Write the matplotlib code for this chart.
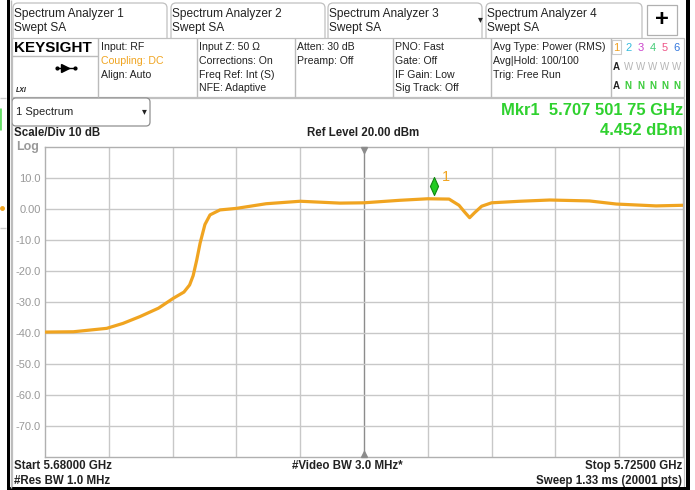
import numpy as np
import matplotlib
matplotlib.use("Agg")
import matplotlib.pyplot as plt
from matplotlib.patches import Rectangle, FancyBboxPatch
from matplotlib.path import Path
from matplotlib.transforms import offset_copy

plt.rcParams["font.family"] = ["Liberation Sans", "DejaVu Sans"]

# --- trace values (offset from start in MHz, level in dBm)
start_ghz = 5.680
stop_ghz = 5.725
trace_offset_mhz = [0.0, 2.0, 4.35, 5.5, 6.7, 8.0, 9.05, 9.8, 10.2, 10.45, 10.7,
                    10.94, 11.28, 11.64, 12.34, 13.5, 15.6, 18.0, 20.8, 22.5,
                    25.0, 27.0, 28.5, 29.2, 29.6, 29.95, 30.3, 30.8, 31.5, 33.5,
                    35.6, 38.4, 40.3, 43.1, 45.0]
trace_dbm = [-39.7, -39.6, -38.5, -36.9, -34.7, -32.0, -28.8, -26.8, -24.5, -21.5,
             -16.5, -11.0, -5.0, -1.9, -0.3, 0.2, 1.7, 2.5, 1.9, 2.0,
             2.8, 3.3, 3.2, 1.2, -1.0, -2.8, -1.2, 0.9, 2.0, 2.5,
             2.9, 2.6, 1.6, 1.0, 1.2]

marker_ghz = 5.70750175
marker_dbm = 4.452

ref_level = 20.0
y_ticks = [10, 0, -10, -20, -30, -40, -50, -60, -70]
y_labels = ["10.0", "0.00", "-10.0", "-20.0", "-30.0", "-40.0", "-50.0", "-60.0", "-70.0"]

trace_colors = ["#f0a020", "#33bbdd", "#cc44cc", "#44cc77", "#ee5588", "#3377dd"]
ORANGE = "#f0a420"
GREEN = "#2fd12f"
GRID = "#c8c8c8"
TXT = "#222222"

W, H = 695, 490
fig = plt.figure(figsize=(W / 100, H / 100), dpi=100)
fig.patch.set_facecolor("white")

# overlay axes in pixel coords for the instrument chrome
ov = fig.add_axes([0, 0, 1, 1])
ov.set_xlim(0, W)
ov.set_ylim(H, 0)
ov.axis("off")


def t(x, y, s, size=7.6, color=TXT, weight="normal", ha="left", **kw):
    ov.text(x, y, s, fontsize=size, color=color, fontweight=weight,
            ha=ha, va="center", **kw)


def line(x0, y0, x1, y1, color="#bbbbbb", lw=1.0):
    ov.plot([x0, x1], [y0, y1], color=color, lw=lw, solid_capstyle="butt")


# --- tabs
tab_x = [12, 170, 327, 485]
for i, x0 in enumerate(tab_x):
    w = 156 if i < 3 else 158
    ov.add_patch(FancyBboxPatch((x0 + 1, 3), w - 2, 40, boxstyle="round,pad=0,rounding_size=5",
                                fc="white", ec="#c0c0c0", lw=0.9))
    t(x0 + 2, 14, f"Spectrum Analyzer {i + 1}", size=8.6)
    t(x0 + 2, 28, "Swept SA", size=8.6)
t(478, 19, "\u25BE", size=7)
ov.add_patch(Rectangle((647, 5), 30, 30, fc="white", ec="#b0b0b0", lw=0.9))
t(662, 20, "+", size=17, weight="bold", ha="center", color="black")

# --- info bar
ov.add_patch(Rectangle((12, 38), 672, 59, fc="white", ec="#c0c0c0", lw=0.9))
for xs in [98, 197, 295, 393, 491, 611]:
    line(xs, 38, xs, 97)
line(12, 56.5, 98, 56.5)
t(14, 48, "KEYSIGHT", size=11, weight="bold", color="black")
# little input connector icon
line(57, 68, 75, 68, color="black", lw=1.0)
ov.plot([65], [68], marker=">", ms=5.5, color="black")
ov.plot([57, 75], [68, 68], "o", ms=2, color="black")
t(16, 90, "LXI", size=5, weight="bold", style="italic")

cols = [
    (101, ["Input: RF", "Coupling: DC", "Align: Auto"]),
    (199, ["Input Z: 50 \u03A9", "Corrections: On", "Freq Ref: Int (S)", "NFE: Adaptive"]),
    (297, ["Atten: 30 dB", "Preamp: Off"]),
    (395, ["PNO: Fast", "Gate: Off", "IF Gain: Low", "Sig Track: Off"]),
    (493, ["Avg Type: Power (RMS)", "Avg|Hold: 100/100", "Trig: Free Run"]),
]
row_y = [47, 61, 74.5, 88]
for x0, lines in cols:
    for j, s in enumerate(lines):
        c = ORANGE if s.startswith("Coupling") else TXT
        t(x0, row_y[j], s, size=7.6, color=c)

dig_x = [616 + 12.2 * i for i in range(6)]
ov.add_patch(Rectangle((611.5, 40), 9.5, 14, fc="none", ec="#cccccc", lw=0.8))
for i, xd in enumerate(dig_x):
    t(xd, 48, str(i + 1), size=8, color=trace_colors[i], ha="center")
    if i == 0:
        t(xd, 67, "A", size=7, weight="bold", ha="center")
        t(xd, 86, "A", size=7, weight="bold", ha="center")
    else:
        t(xd, 67, "W", size=7, color="#b5b5b5", ha="center")
        t(xd, 86, "N", size=7, color="#3ccc3c", ha="center", weight="bold")

# --- main panel frame
ov.add_patch(Rectangle((12, 98), 672, 390, fc="none", ec="#c0c0c0", lw=0.9))
ov.add_patch(FancyBboxPatch((12, 98), 138, 28, boxstyle="round,pad=0,rounding_size=4",
                            fc="white", ec="#909090", lw=0.9))
t(16, 112, "1 Spectrum", size=8)
t(144, 111, "\u25BE", size=7, ha="center")

t(683, 110, "Mkr1  5.707 501 75 GHz", size=11.9, weight="bold", color=GREEN, ha="right")
t(683, 130, "4.452 dBm", size=11.9, weight="bold", color=GREEN, ha="right")
t(14, 133, "Scale/Div 10 dB", size=8.3, weight="bold")
t(363, 133, "Ref Level 20.00 dBm", size=8.3, weight="bold", ha="center")
t(16, 147, "Log", size=9, weight="bold", color="#999999")

t(14, 466, "Start 5.68000 GHz", size=8.3, weight="bold")
t(14, 481, "#Res BW 1.0 MHz", size=8.3, weight="bold")
t(347, 466, "#Video BW 3.0 MHz*", size=8.3, weight="bold", ha="center")
t(682, 466, "Stop 5.72500 GHz", size=8.3, weight="bold", ha="right")
t(682, 481, "Sweep 1.33 ms (20001 pts)", size=8.3, weight="bold", ha="right")

# outer black borders
ov.add_patch(Rectangle((6.5, 0), 3, 489, fc="black", ec="none"))
ov.add_patch(Rectangle((686, 0), 4, 489, fc="black", ec="none"))
ov.add_patch(Rectangle((6.5, 486.5), 683.5, 3, fc="black", ec="none"))
line(10.5, 0, 10.5, 488, color="#bbbbbb")
# sliver of neighbouring window at far left
line(0, 98, 6, 98, color="#cccccc")
line(0, 228, 6, 228, color="#cccccc")
line(0, 108, 0, 130, color="#66dd66", lw=2)
ov.plot([1.5], [208], "o", ms=2.5, color=ORANGE)

# --- the spectrum plot
ax = fig.add_axes([45 / W, (H - 457) / H, 638 / W, 310 / H])
freqs = start_ghz + np.array(trace_offset_mhz) / 1000.0
ax.set_xlim(start_ghz, stop_ghz)
ax.set_ylim(ref_level - 100, ref_level)
ax.set_facecolor("white")

div_x = np.linspace(start_ghz, stop_ghz, 11)
div_y = np.arange(ref_level - 100, ref_level + 1, 10)
for xv in div_x[1:-1]:
    c = "#8c8c8c" if np.isclose(xv, div_x[5]) else GRID
    ax.axvline(xv, color=c, lw=1.0, zorder=1)
for yv in div_y[1:-1]:
    ax.axhline(yv, color=GRID, lw=1.0, zorder=1)
for sp in ax.spines.values():
    sp.set_color("#b0b0b0")
    sp.set_linewidth(1.0)

ax.set_xticks([])
ax.set_yticks(y_ticks)
ax.set_yticklabels(y_labels, fontsize=8, color="#999999")
ax.tick_params(axis="y", length=0, pad=3)

ax.plot(freqs, trace_dbm, color=ORANGE, lw=2.3, zorder=3, solid_joinstyle="round")

# centre triangles
ax.plot([div_x[5]], [ref_level], marker="v", ms=5, color="#8c8c8c", clip_on=False,
        transform=offset_copy(ax.transData, fig, y=-3, units="dots"), zorder=4)
ax.plot([div_x[5]], [ref_level - 100], marker="^", ms=5, color="#8c8c8c", clip_on=False,
        transform=offset_copy(ax.transData, fig, y=3, units="dots"), zorder=4)

# marker 1
diamond = Path([(0, -1), (0.45, 0), (0, 1), (-0.45, 0), (0, -1)],
               [Path.MOVETO, Path.LINETO, Path.LINETO, Path.LINETO, Path.CLOSEPOLY])
ax.plot([marker_ghz], [marker_dbm], marker=diamond, ms=13, mfc="#22cc22", mec="#118811",
        mew=0.8, transform=offset_copy(ax.transData, fig, x=-1, y=9, units="dots"), zorder=5)
ax.text(marker_ghz, marker_dbm, "1", fontsize=10.5, color=ORANGE, ha="left", va="center",
        transform=offset_copy(ax.transData, fig, x=7, y=18, units="dots"), zorder=5)

fig.savefig("out.png", dpi=100)
